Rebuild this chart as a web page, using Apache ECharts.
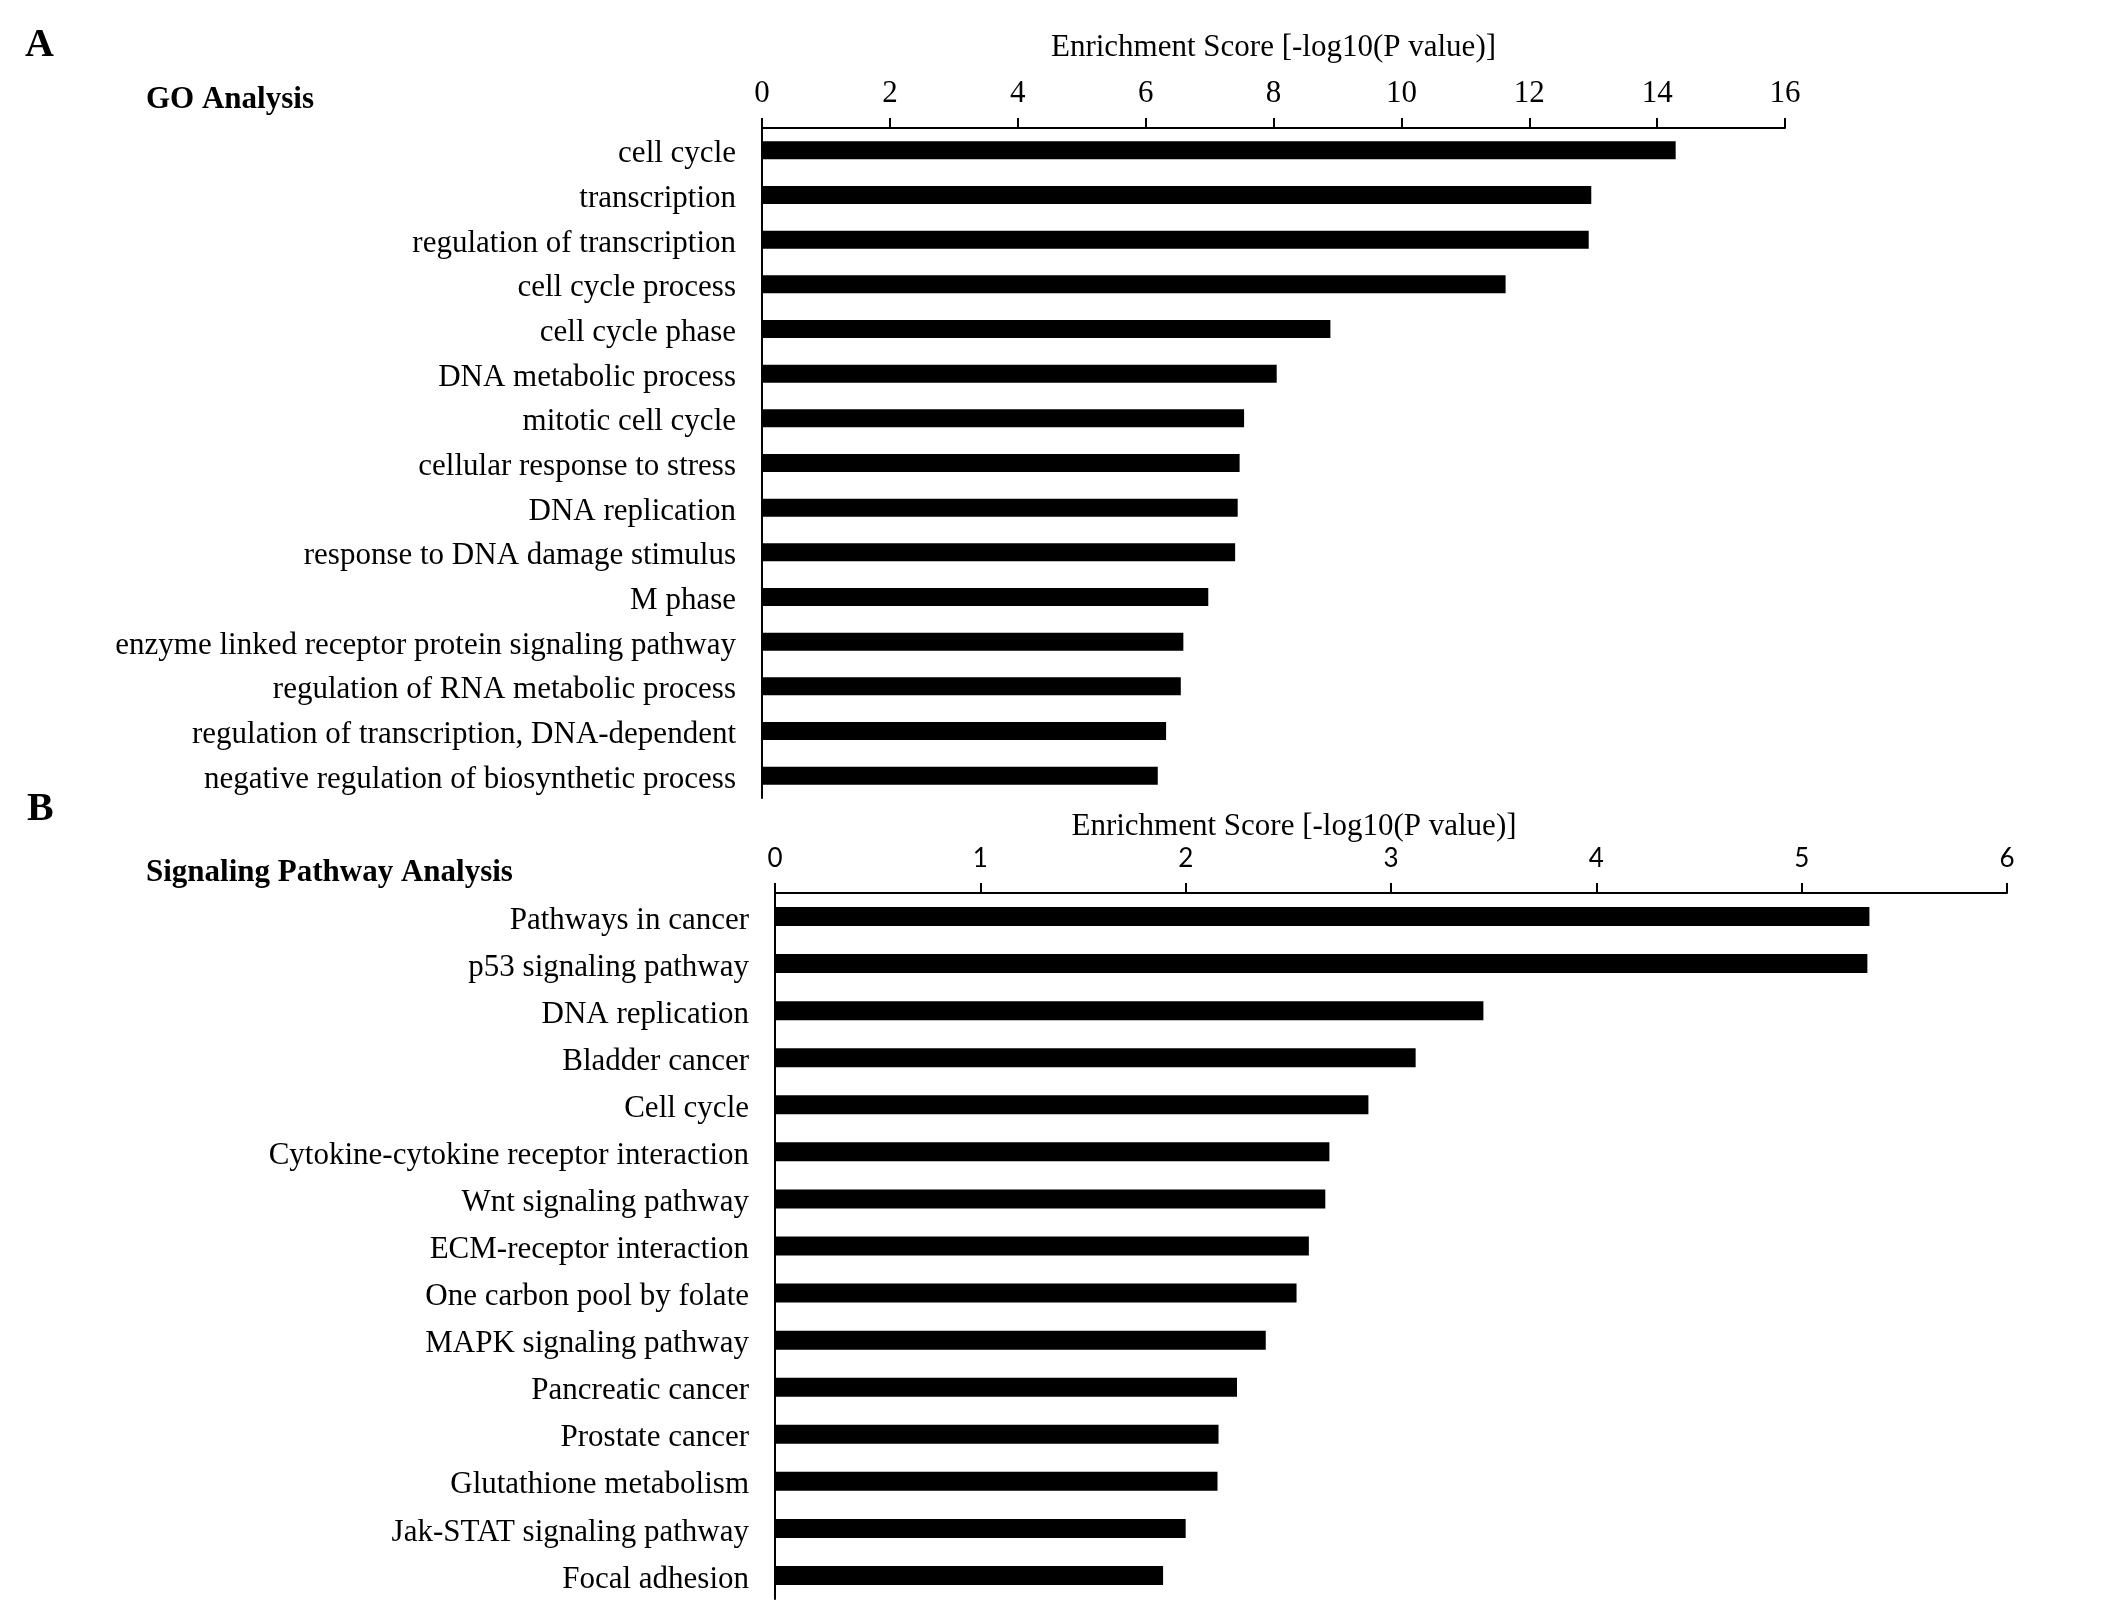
<!DOCTYPE html>
<html>
<head>
<meta charset="utf-8">
<script src="https://cdn.jsdelivr.net/npm/echarts@6/dist/echarts.min.js"></script>
<style>
html,body{margin:0;padding:0;background:#fff;}
#chart{width:2126px;height:1611px;}
</style>
</head>
<body>
<div id="chart"></div>
<script>
const goCategories = [
  'cell cycle','transcription','regulation of transcription','cell cycle process','cell cycle phase',
  'DNA metabolic process','mitotic cell cycle','cellular response to stress','DNA replication',
  'response to DNA damage stimulus','M phase','enzyme linked receptor protein signaling pathway',
  'regulation of RNA metabolic process','regulation of transcription, DNA-dependent',
  'negative regulation of biosynthetic process'
];
const goValues = [14.29, 12.97, 12.93, 11.63, 8.89, 8.05, 7.54, 7.47, 7.44, 7.40, 6.98, 6.59, 6.55, 6.32, 6.19];
const goTicks = [0, 2, 4, 6, 8, 10, 12, 14, 16];

const pathCategories = [
  'Pathways in cancer','p53 signaling pathway','DNA replication','Bladder cancer','Cell cycle',
  'Cytokine-cytokine receptor interaction','Wnt signaling pathway','ECM-receptor interaction',
  'One carbon pool by folate','MAPK signaling pathway','Pancreatic cancer','Prostate cancer',
  'Glutathione metabolism','Jak-STAT signaling pathway','Focal adhesion'
];
const pathValues = [5.33, 5.32, 3.45, 3.12, 2.89, 2.70, 2.68, 2.60, 2.54, 2.39, 2.25, 2.16, 2.155, 2.00, 1.89];
const pathTicks = [0, 1, 2, 3, 4, 5, 6];

const axisTitle = 'Enrichment Score [-log10(P value)]';
const SERIF = '"Liberation Serif", "Times New Roman", serif';
const SANS = 'Lato, "Open Sans", sans-serif';

const chart = echarts.init(document.getElementById('chart'), null, {renderer: 'canvas'});

function txt(x, y, text, font, align) {
  return {type: 'text', x: x, y: y, style: {text: text, font: font, fill: '#000', textAlign: align || 'left', textVerticalAlign: 'middle'}};
}

const catLabel = {
  color: '#000', fontFamily: SERIF, fontSize: 31, margin: 26, interval: 0,
  formatter: function (v) { return '{a|' + v + '}'; },
  rich: {a: {fontFamily: SERIF, fontSize: 31, color: '#000', padding: [8, 0, 0, 0]}}
};

const option = {
  backgroundColor: '#fff',
  animation: false,
  graphic: [
    txt(25, 46, 'A', 'bold 40px ' + SERIF),
    txt(27, 810, 'B', 'bold 40px ' + SERIF),
    txt(146, 100, 'GO Analysis', 'bold 31px ' + SERIF),
    txt(146, 873, 'Signaling Pathway Analysis', 'bold 31px ' + SERIF),
    txt(1273.5, 48, axisTitle, '31px ' + SERIF, 'center'),
    txt(1294, 827, axisTitle, '31px ' + SERIF, 'center')
  ],
  grid: [
    {left: 762, top: 128, width: 1023, height: 670, containLabel: false},
    {left: 775, top: 893, width: 1232, height: 706, containLabel: false}
  ],
  xAxis: [
    {
      gridIndex: 0, type: 'value', position: 'top',
      min: goTicks[0], max: goTicks[goTicks.length - 1], interval: goTicks[1] - goTicks[0],
      splitLine: {show: false},
      axisLine: {show: true, lineStyle: {color: '#000', width: 2}},
      axisTick: {show: true, length: 10, lineStyle: {color: '#000', width: 2}},
      axisLabel: {color: '#000', fontFamily: SERIF, fontSize: 31, margin: 19}
    },
    {
      gridIndex: 1, type: 'value', position: 'top',
      min: pathTicks[0], max: pathTicks[pathTicks.length - 1], interval: pathTicks[1] - pathTicks[0],
      splitLine: {show: false},
      axisLine: {show: true, lineStyle: {color: '#000', width: 2}},
      axisTick: {show: true, length: 10, lineStyle: {color: '#000', width: 2}},
      axisLabel: {color: '#000', fontFamily: SANS, fontSize: 26, margin: 21}
    }
  ],
  yAxis: [
    {
      gridIndex: 0, type: 'category', data: goCategories, inverse: true,
      axisLine: {show: true, lineStyle: {color: '#000', width: 2}},
      axisTick: {show: false},
      axisLabel: catLabel
    },
    {
      gridIndex: 1, type: 'category', data: pathCategories, inverse: true,
      axisLine: {show: true, lineStyle: {color: '#000', width: 2}},
      axisTick: {show: false},
      axisLabel: catLabel
    }
  ],
  series: [
    {type: 'bar', xAxisIndex: 0, yAxisIndex: 0, data: goValues, barWidth: 18, itemStyle: {color: '#000'}, silent: true},
    {type: 'bar', xAxisIndex: 1, yAxisIndex: 1, data: pathValues, barWidth: 19, itemStyle: {color: '#000'}, silent: true}
  ]
};
chart.setOption(option);
</script>
</body>
</html>
